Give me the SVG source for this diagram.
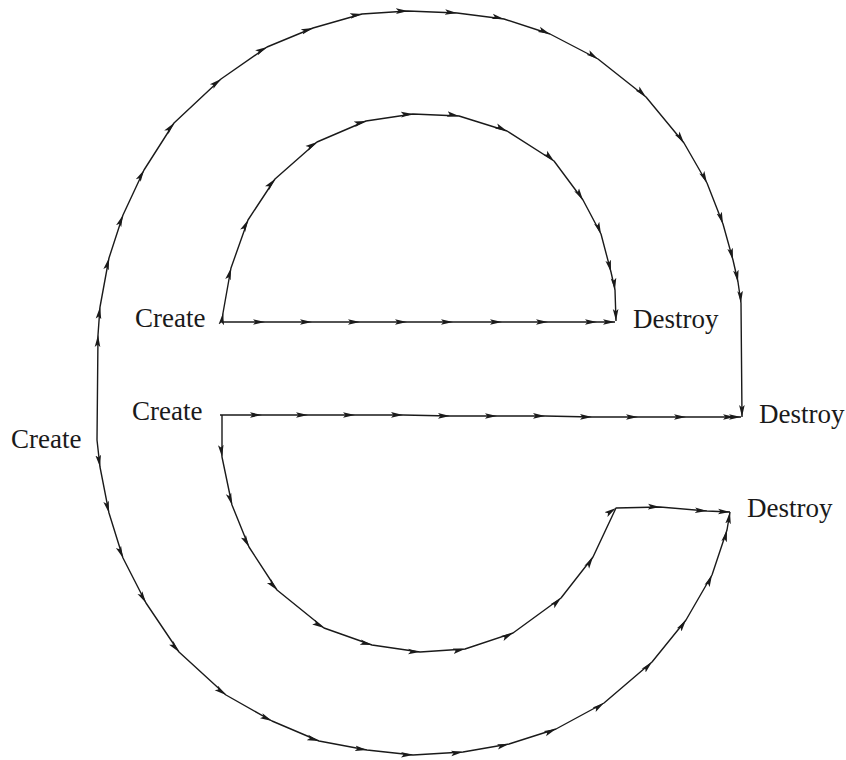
<svg xmlns="http://www.w3.org/2000/svg" width="846" height="760" viewBox="0 0 846 760">
<style>
.p{fill:none;stroke:#1a1a1a;stroke-width:1.4;stroke-linejoin:round;marker-mid:url(#ah);marker-end:url(#ah)}
.t{font-family:"Liberation Serif","Times New Roman",serif;font-size:27px;fill:#1a1a1a}
</style>
<defs>
<marker id="ah" markerUnits="userSpaceOnUse" markerWidth="13" markerHeight="8" viewBox="0 0 13 8" refX="12" refY="4" orient="auto">
<path d="M0,1.2 L12,4 L0,6.8 L2.5,4 Z" fill="#1a1a1a"/>
</marker>
</defs>
<rect width="846" height="760" fill="#fff"/>
<g id="connectors">
<polyline class="p" points="97,440 98,335 100,307 109,258 123,215 144,170 174,123 221,79 267,47 313,28 362,14 408,11 457,13 504,19 550,34 598,59 646,97 684,143 707,183 723,224 733,260 738,282 741,303 742,417"/>
<polyline class="p" points="97,440 100,467 109,513 123,558 146,603 179,652 226,695 272,721 319,741 367,750 413,755 463,752 509,744 556,729 604,703 652,662 686,620 712,575 727,530 730,512"/>
<polyline class="p" points="222,322 223,313 231,268 248,220 275,179 317,142 366,121 413,114 459,116 507,131 554,161 583,200 601,234 611,272 615,290 616,321"/>
<polyline class="p" points="222,322 265,322 312,322 360,322 407,322 453,322 502,322 548,322 597,322 615,322"/>
<polyline class="p" points="220,415 262,415 308,415 355,415 403,415 450,416 497,416 545,416 592,417 638,417 686,417 735,417 741,417"/>
<polyline class="p" points="222,415 222,457 232,505 249,547 277,590 324,628 372,645 420,652 465,649 513,633 561,598 593,557 616,508 660,507 707,511 730,512"/>
</g>
<g id="create-inner-top"><text class="t" x="135" y="327">Create</text></g>
<g id="create-middle"><text class="t" x="132" y="420">Create</text></g>
<g id="create-outer"><text class="t" x="11" y="448">Create</text></g>
<g id="destroy-inner-top"><text class="t" x="633" y="328">Destroy</text></g>
<g id="destroy-middle"><text class="t" x="759" y="423">Destroy</text></g>
<g id="destroy-bottom"><text class="t" x="747" y="517">Destroy</text></g>
</svg>
